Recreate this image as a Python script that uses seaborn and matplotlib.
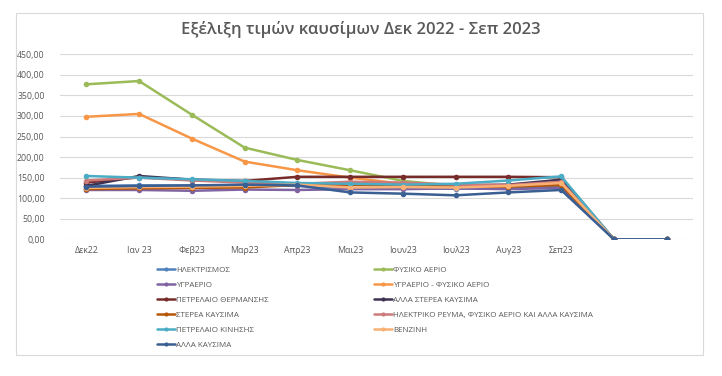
import numpy as np
import pandas as pd
import matplotlib
matplotlib.use('Agg')
import matplotlib.pyplot as plt
import matplotlib.patches as mpatches
import seaborn as sns

# μήνες (οι δύο τελευταίες θέσεις χωρίς ετικέτα)
months = ['Δεκ22', 'Ιαν 23', 'Φεβ23', 'Μαρ23', 'Απρ23', 'Μαι23',
          'Ιουν23', 'Ιουλ23', 'Αυγ23', 'Σεπ23', '', '']

ilektrismos = [130, 131, 131, 131, 130, 125, 124, 123, 124, 130, 0, 0]
fysiko_aerio = [377, 385, 303, 223, 193, 168, 142, 130, 128, 145, 0, 0]
ygraerio = [120, 120, 118, 121, 120, 122, 122, 124, 122, 125, 0, 0]
ygraerio_fa = [298, 305, 245, 189, 168, 150, 135, 132, 130, 140, 0, 0]
petr_therm = [138, 151, 145, 142, 152, 152, 152, 152, 152, 151, 0, 0]
alla_sterea = [130, 154, 145, 140, 135, 133, 132, 131, 133, 145, 0, 0]
sterea = [122, 124, 125, 126, 132, 133, 130, 128, 128, 132, 0, 0]
ilektriko_reuma = [143, 150, 143, 138, 135, 140, 138, 133, 132, 140, 0, 0]
petr_kinisis = [154, 150, 146, 142, 137, 135, 133, 135, 143, 153, 0, 0]
venzini = [125, 127, 128, 130, 133, 126, 127, 126, 130, 137, 0, 0]
alla_kausima = [128, 130, 131, 133, 131, 114, 111, 107, 114, 120, 0, 0]

names = ['ΗΛΕΚΤΡΙΣΜΟΣ', 'ΦΥΣΙΚΟ ΑΕΡΙΟ', 'ΥΓΡΑΕΡΙΟ', 'ΥΓΡΑΕΡΙΟ - ΦΥΣΙΚΟ ΑΕΡΙΟ',
         'ΠΕΤΡΕΛΑΙΟ ΘΕΡΜΑΝΣΗΣ', 'ΑΛΛΑ ΣΤΕΡΕΑ ΚΑΥΣΙΜΑ', 'ΣΤΕΡΕΑ ΚΑΥΣΙΜΑ',
         'ΗΛΕΚΤΡΙΚΟ ΡΕΥΜΑ, ΦΥΣΙΚΟ ΑΕΡΙΟ ΚΑΙ ΑΛΛΑ ΚΑΥΣΙΜΑ', 'ΠΕΤΡΕΛΑΙΟ ΚΙΝΗΣΗΣ',
         'ΒΕΝΖΙΝΗ', 'ΑΛΛΑ ΚΑΥΣΙΜΑ']
series = [ilektrismos, fysiko_aerio, ygraerio, ygraerio_fa, petr_therm, alla_sterea,
          sterea, ilektriko_reuma, petr_kinisis, venzini, alla_kausima]
colors = ['#4F81BD', '#9BBB59', '#8064A2', '#F79646', '#772C2A', '#3F3151',
          '#B65708', '#CD7B7A', '#4BACC6', '#F9B074', '#3A5F92']

rows = []
for name, vals in zip(names, series):
    for i, v in enumerate(vals):
        rows.append({'pos': i, 'value': v, 'series': name})
df = pd.DataFrame(rows)

sns.set_style('white')
plt.rcParams['font.family'] = ['Open Sans', 'DejaVu Sans']

fig = plt.figure(figsize=(7.22, 3.76), dpi=100)
ax = fig.add_axes([60 / 722, 1 - 239.3 / 376, 633 / 722, 185 / 376])

sns.lineplot(data=df, x='pos', y='value', hue='series', hue_order=names,
             palette=dict(zip(names, colors)), marker='o', markersize=4,
             markeredgewidth=0, linewidth=1.8, legend=False, ax=ax, sort=False)

ax.set_xlim(-0.5, len(months) - 0.5)
ax.set_ylim(0, 450)
ax.set_yticks(np.arange(0, 451, 50))
ax.set_yticklabels([f'{v:.2f}'.replace('.', ',') for v in np.arange(0, 451, 50)])
ax.set_xticks(range(len(months)))
ax.set_xticklabels(months)
ax.tick_params(axis='both', length=0, labelsize=6.3, colors='#595959')
ax.tick_params(axis='y', pad=11)
ax.tick_params(axis='x', pad=5)
ax.grid(axis='y', color='#D9D9D9', linewidth=0.8)
ax.set_axisbelow(True)
for s in ax.spines.values():
    s.set_visible(False)
ax.set_xlabel('')
ax.set_ylabel('')

fig.text(0.5, 1 - 30 / 376, 'Εξέλιξη τιμών καυσίμων Δεκ 2022 - Σεπ 2023',
         ha='center', va='center', fontsize=12, color='#595959', fontweight='semibold')

# υπόμνημα σε δύο στήλες
handles = [plt.Line2D([], [], color=c, marker='o', markersize=3, markeredgewidth=0,
                      linewidth=1.8) for c in colors]
left_idx = [0, 2, 4, 6, 8, 10]
right_idx = [1, 3, 5, 7, 9]
leg_kw = dict(frameon=False, fontsize=5.8, handlelength=2.2, handletextpad=0.2,
              labelspacing=0.92, borderpad=0, labelcolor='#595959')
fig.legend([handles[i] for i in left_idx], [names[i] for i in left_idx],
           loc='upper left', bbox_to_anchor=(153 / 722, 1 - 262 / 376), **leg_kw)
fig.legend([handles[i] for i in right_idx], [names[i] for i in right_idx],
           loc='upper left', bbox_to_anchor=(370 / 722, 1 - 262 / 376), **leg_kw)

# πλαίσιο γραφήματος
fig.add_artist(mpatches.Rectangle((16 / 722, 1 - 355 / 376), 687 / 722, 342 / 376,
                                  transform=fig.transFigure, fill=False,
                                  edgecolor='#D9D9D9', linewidth=0.8))

fig.savefig('out.png', dpi=100)
